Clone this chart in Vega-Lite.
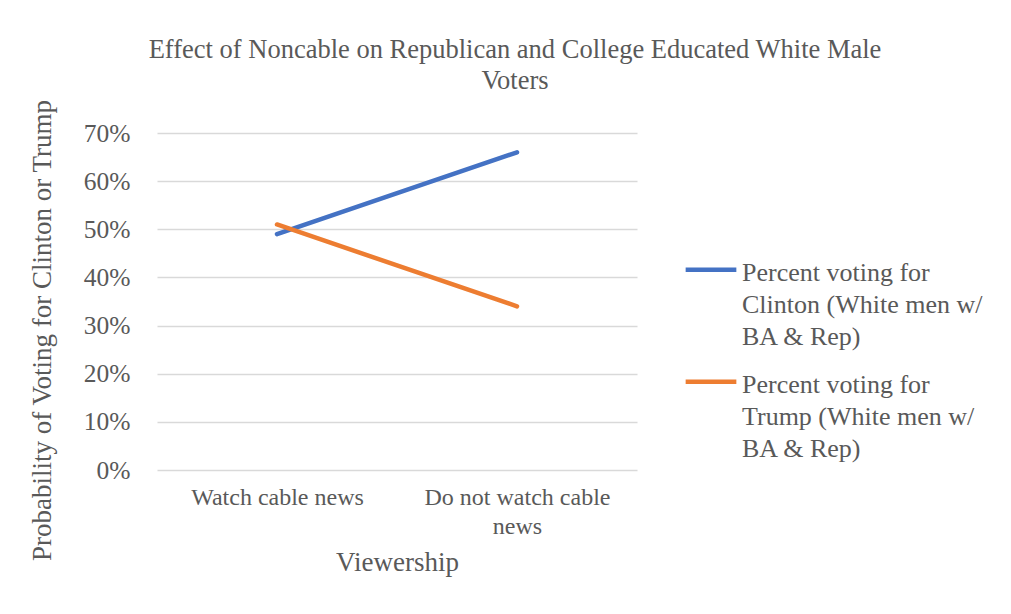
{
  "$schema": "https://vega.github.io/schema/vega-lite/v6.json",
  "autosize": "none",
  "width": 480,
  "height": 337,
  "padding": {"left": 157, "top": 133, "right": 374, "bottom": 144},
  "background": "white",
  "title": {
    "text": ["Effect of Noncable on Republican and College Educated White Male", "Voters"],
    "font": "Liberation Serif",
    "fontSize": 26.5,
    "fontWeight": "normal",
    "color": "#595959",
    "lineHeight": 31,
    "anchor": "middle",
    "dx": 118,
    "offset": 4
  },
  "data": {
    "values": [
      {"view": "Watch cable news", "series": "Percent voting for Clinton (White men w/ BA & Rep)", "value": 0.49},
      {"view": "Do not watch cable news", "series": "Percent voting for Clinton (White men w/ BA & Rep)", "value": 0.66},
      {"view": "Watch cable news", "series": "Percent voting for Trump (White men w/ BA & Rep)", "value": 0.51},
      {"view": "Do not watch cable news", "series": "Percent voting for Trump (White men w/ BA & Rep)", "value": 0.34}
    ]
  },
  "mark": {"type": "line", "strokeWidth": 4.5, "strokeCap": "round"},
  "encoding": {
    "x": {
      "field": "view",
      "type": "nominal",
      "sort": ["Watch cable news", "Do not watch cable news"],
      "scale": {"type": "point", "padding": 0.5},
      "axis": {
        "title": "Viewership",
        "titleFont": "Liberation Serif",
        "titleFontSize": 27,
        "titleFontWeight": "normal",
        "titleColor": "#595959",
        "titlePadding": 11,
        "labelFont": "Liberation Serif",
        "labelFontSize": 24,
        "labelColor": "#595959",
        "labelAngle": 0,
        "labelPadding": 15,
        "labelLineHeight": 29,
        "labelLimit": 400,
        "labelExpr": "datum.label == 'Do not watch cable news' ? ['Do not watch cable', 'news'] : datum.label",
        "ticks": false,
        "domain": false,
        "grid": false
      }
    },
    "y": {
      "field": "value",
      "type": "quantitative",
      "scale": {"domain": [0, 0.7], "nice": false},
      "axis": {
        "format": ".0%",
        "values": [0, 0.1, 0.2, 0.3, 0.4, 0.5, 0.6, 0.7],
        "title": "Probability of Voting for Clinton or Trump",
        "titleFont": "Liberation Serif",
        "titleFontSize": 27,
        "titleFontWeight": "normal",
        "titleColor": "#595959",
        "titleAngle": -90,
        "titleX": -115,
        "titleY": 197,
        "titleAlign": "center",
        "titleBaseline": "middle",
        "labelFont": "Liberation Serif",
        "labelFontSize": 25.5,
        "labelColor": "#595959",
        "labelPadding": 27,
        "ticks": false,
        "domain": false,
        "grid": true,
        "gridColor": "#d9d9d9",
        "gridWidth": 1.5
      }
    },
    "color": {
      "field": "series",
      "type": "nominal",
      "scale": {
        "domain": ["Percent voting for Clinton (White men w/ BA & Rep)", "Percent voting for Trump (White men w/ BA & Rep)"],
        "range": ["#4472C4", "#ED7D31"]
      },
      "legend": {
        "title": null,
        "orient": "none",
        "legendX": 532,
        "legendY": 105,
        "symbolType": "M-1.3,0.5H1.3",
        "symbolStrokeWidth": 4.5,
        "symbolSize": 1521,
        "labelFont": "Liberation Serif",
        "labelFontSize": 26,
        "labelColor": "#595959",
        "labelLimit": 400,
        "labelOffset": 9,
        "labelBaseline": "top",
        "rowPadding": 0,
        "labelExpr": "split(replace(replace(datum.label, 'for ', 'for\\n'), 'w/ ', 'w/\\n'), '\\n')"
      }
    }
  },
  "config": {
    "view": {"stroke": null},
    "style": {"guide-label": {"lineHeight": 32}}
  }
}
